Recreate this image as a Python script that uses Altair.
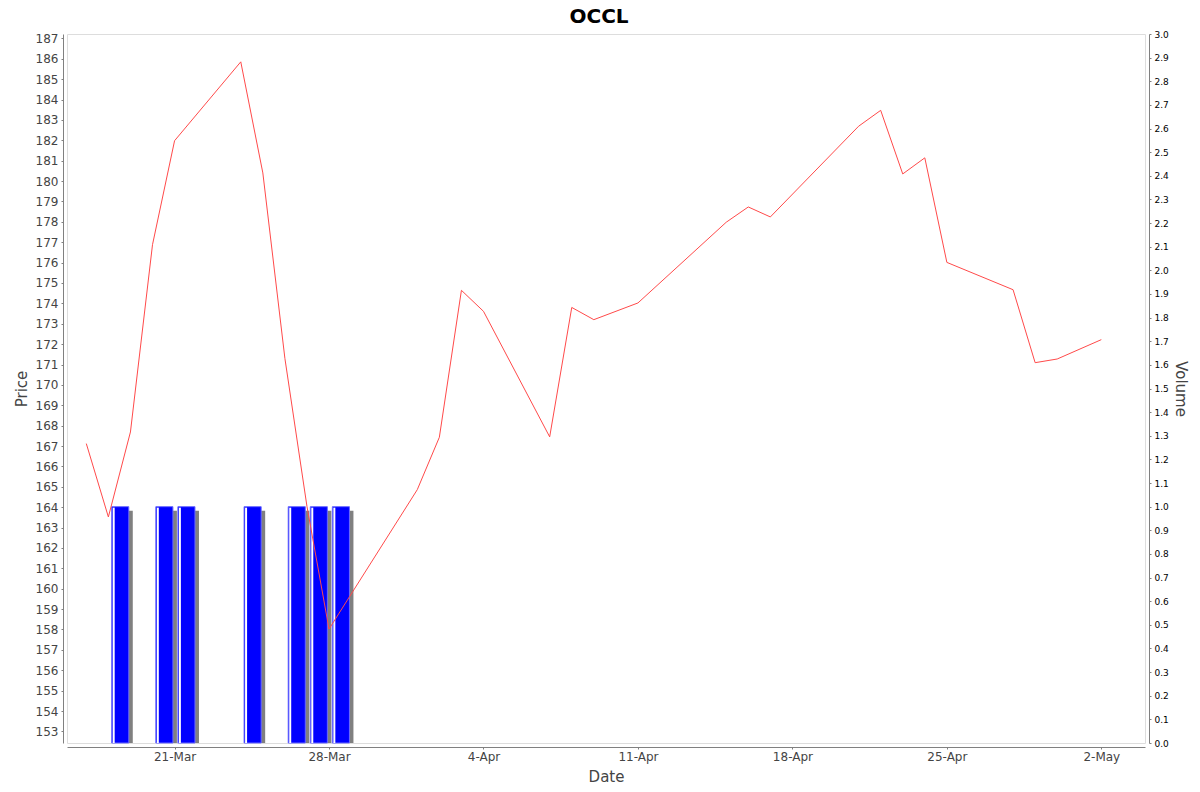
import altair as alt
import pandas as pd

# ---- data ----
dates = ["2025-03-17", "2025-03-18", "2025-03-19", "2025-03-20", "2025-03-21",
         "2025-03-24", "2025-03-25", "2025-03-26", "2025-03-27", "2025-03-28",
         "2025-04-01", "2025-04-02", "2025-04-03", "2025-04-04",
         "2025-04-07", "2025-04-08", "2025-04-09", "2025-04-11",
         "2025-04-15", "2025-04-16", "2025-04-17",
         "2025-04-21", "2025-04-22", "2025-04-23", "2025-04-24", "2025-04-25",
         "2025-04-28", "2025-04-29", "2025-04-30", "2025-05-02"]
prices = [167.12, 163.52, 167.69, 176.88, 181.98,
          185.85, 180.40, 171.30, 164.04, 158.02,
          164.86, 167.43, 174.64, 173.61,
          167.45, 173.80, 173.20, 174.02,
          177.98, 178.73, 178.24,
          182.69, 183.47, 180.35, 181.14, 176.01,
          174.67, 171.09, 171.27, 172.22]
volumes = [0, 1, 0, 1, 1,
           1, 0, 1, 1, 1,
           0, 0, 0, 0,
           0, 0, 0, 0,
           0, 0, 0,
           0, 0, 0, 0, 0,
           0, 0, 0, 0]
tick_dates = ["2025-03-21", "2025-03-28", "2025-04-04", "2025-04-11",
              "2025-04-18", "2025-04-25", "2025-05-02"]
price_ticks = list(range(153, 188))
volume_ticks = [i / 10 for i in range(31)]

df = pd.DataFrame({"date": pd.to_datetime(dates), "price": prices, "volume": volumes})
df["bar_start"] = df["date"] + pd.Timedelta(hours=3.6)
df["bar_end"] = df["date"] + pd.Timedelta(hours=22.2)
vol_df = df[df["volume"] > 0]

FONT = "DejaVu Sans"

def dt(s, hours=0, minutes=0):
    t = pd.Timestamp(s)
    return alt.DateTime(year=t.year, month=t.month, date=t.day, hours=hours, minutes=minutes)

common = dict(grid=False, labelFont=FONT, titleFont=FONT, tickSize=2, offset=4,
              labelOverlap=False, labelFlush=False, domainColor="#808080",
              tickColor="#808080", titleFontWeight="normal", titleColor="#444444")

x_scale = alt.Scale(domain=[dt("2025-03-16", 3), dt("2025-05-03", 23, 30)])
x_axis = alt.Axis(values=[dt(d) for d in tick_dates], format="%-d-%b", title="Date",
                  labelPadding=2, labelFontSize=12, labelColor="#444444",
                  titleFontSize=15, titlePadding=7, **common)

vol_scale = alt.Scale(domain=[0, 3.0], nice=False, zero=True)
vol_axis = alt.Axis(orient="right", values=volume_ticks, format=".1f", title="Volume",
                    labelPadding=3, labelFontSize=9, labelColor="#000000",
                    titleFontSize=15, titlePadding=4, **common)

price_scale = alt.Scale(domain=[152.43, 187.216], nice=False, zero=False)
price_axis = alt.Axis(orient="left", values=price_ticks, title="Price",
                      labelPadding=3, labelFontSize=12, labelColor="#444444",
                      titleFontSize=15, titlePadding=6, **common)

base_vol = alt.Chart(vol_df)

shadow = base_vol.mark_bar(color="#808080", xOffset=4, x2Offset=4, yOffset=4,
                           y2Offset=4, clip=True).encode(
    x=alt.X("bar_start:T", scale=x_scale, axis=x_axis),
    x2="bar_end:T",
    y=alt.Y("volume:Q", scale=vol_scale, axis=vol_axis),
    y2=alt.Y2(datum=0),
)

bars = base_vol.mark_bar(color="#0000ff", stroke="#6a6aff", strokeWidth=1).encode(
    x=alt.X("bar_start:T", scale=x_scale, axis=x_axis),
    x2="bar_end:T",
    y=alt.Y("volume:Q", scale=vol_scale, axis=vol_axis),
    y2=alt.Y2(datum=0),
)

strip = base_vol.mark_bar(color="#ffffff", xOffset=1, x2Offset=3, yOffset=1).encode(
    x=alt.X("bar_start:T", scale=x_scale, axis=x_axis),
    x2="bar_start:T",
    y=alt.Y("volume:Q", scale=vol_scale, axis=vol_axis),
    y2=alt.Y2(datum=0),
)

vol_layer = alt.layer(shadow, bars, strip)

line = alt.Chart(df).mark_line(color="#ff4a4a", strokeWidth=1).encode(
    x=alt.X("date:T", scale=x_scale, axis=x_axis),
    y=alt.Y("price:Q", scale=price_scale, axis=price_axis),
)

chart = alt.layer(vol_layer, line).resolve_scale(y="independent").properties(
    width=1078,
    height=709,
    autosize=alt.AutoSizeParams(type="none"),
    padding={"left": 59, "top": 26, "right": 46, "bottom": 41},
    title=alt.TitleParams("OCCL", fontSize=20, fontWeight="bold", font=FONT,
                          color="#000000", anchor="middle", offset=3, dx=-7),
).configure_view(
    stroke="#808080", strokeWidth=1
).configure_axis(
    grid=False, labelFont=FONT, titleFont=FONT
).configure(background="#ffffff")

chart.save("out.html", embed_options={"renderer": "svg", "actions": False})
